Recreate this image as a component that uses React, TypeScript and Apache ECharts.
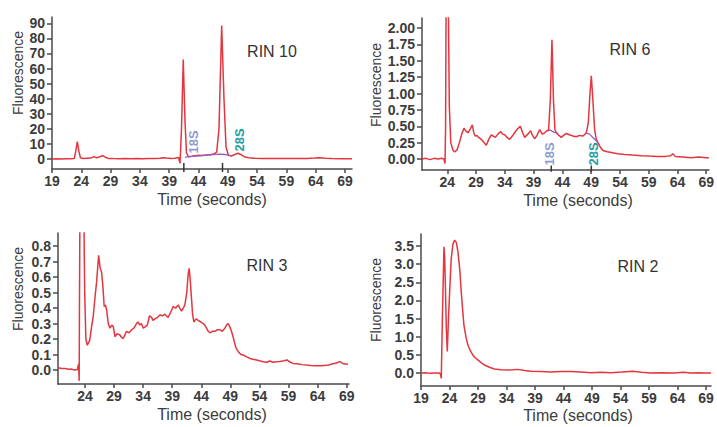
import React, { useEffect, useRef } from "react";
import * as echarts from "echarts";

// ---------- tick values ----------
const xTicksFrom19 = [19, 24, 29, 34, 39, 44, 49, 54, 59, 64, 69];
const xTicksFrom24 = [24, 29, 34, 39, 44, 49, 54, 59, 64, 69];
const yTicksRin10 = [0, 10, 20, 30, 40, 50, 60, 70, 80, 90];
const yTicksRin6 = [0, 0.25, 0.5, 0.75, 1.0, 1.25, 1.5, 1.75, 2.0];
const yTicksRin3 = [0, 0.1, 0.2, 0.3, 0.4, 0.5, 0.6, 0.7, 0.8];
const yTicksRin2 = [0, 0.5, 1.0, 1.5, 2.0, 2.5, 3.0, 3.5];

// ---------- traces: [time (s), fluorescence] ----------
const rin10Trace = [
  [19.0, 0.0], [19.8, 0.2], [20.6, 0.0], [21.4, 0.2], [22.2, 0.1], [22.8, 0.3], [23.05, 5], [23.32, 11.5],
  [23.6, 5], [23.85, 0.8], [24.3, 0.3], [25.0, 0.5], [25.6, 0.6], [26.2, 1.6], [26.6, 0.8], [27.2, 1.5],
  [27.65, 2.3], [28.1, 1.2], [28.6, 0.4], [29.5, 0.3], [30.5, 0.2], [31.5, 0.3], [32.5, 0.2], [33.5, 0.3],
  [34.5, 0.2], [35.5, 0.3], [36.5, 0.3], [37.4, 0.5], [38.0, 0.9], [38.5, 0.6], [39.3, 0.3], [40.0, 0.5],
  [40.6, 1.0], [40.85, -2.8], [41.1, 20], [41.4, 66], [41.7, 25], [41.95, 4], [42.3, 1.5], [42.8, 1.8],
  [43.4, 2.2], [44.0, 2.5], [44.6, 2.3], [45.3, 2.6], [46.0, 2.8], [46.6, 3.3], [47.1, 4.5], [47.5, 20],
  [47.96, 88.5], [48.35, 40], [48.7, 8], [49.1, 2.5], [49.6, 2.0], [50.2, 3.0], [50.74, 3.8], [51.2, 3.0],
  [51.8, 1.5], [52.5, 0.8], [53.5, 0.5], [55.0, 0.4], [56.5, 0.3], [58.0, 0.3], [59.5, 0.4], [61.0, 0.3],
  [62.5, 0.4], [63.8, 0.6], [64.7, 0.9], [65.5, 0.5], [66.8, 0.3], [68.2, 0.2], [69.5, 0.2], [70.2, 0.2],
];
const rin10Baseline = [[41.7, 1.3], [43.0, 1.7], [44.5, 2.2], [46.0, 2.7], [47.5, 3.2], [48.5, 3.0], [49.5, 2.3]];
const rin10Markers = [41.5, 48.1];

const rin6Trace = [
  [19.6, 0.0], [20.3, 0.01], [21.0, -0.01], [21.7, 0.01], [22.4, 0.0], [23.0, 0.01], [23.4, 0.0], [23.6, -0.07],
  [23.7, 0.5], [23.8, 2.6], [24.15, 2.6], [24.35, 0.8], [24.6, 0.25], [25.0, 0.13], [25.28, 0.11], [25.7, 0.14],
  [26.1, 0.25], [26.5, 0.38], [26.9, 0.47], [27.2, 0.43], [27.6, 0.4], [28.0, 0.46], [28.35, 0.52], [28.6, 0.4],
  [28.87, 0.35], [29.15, 0.36], [29.45, 0.33], [29.9, 0.3], [30.3, 0.26], [30.78, 0.21], [31.2, 0.3], [31.65, 0.37],
  [32.0, 0.35], [32.34, 0.33], [32.8, 0.38], [33.27, 0.42], [33.6, 0.38], [33.97, 0.37], [34.4, 0.33], [34.84, 0.3],
  [35.3, 0.35], [35.7, 0.4], [36.2, 0.46], [36.69, 0.5], [37.1, 0.4], [37.44, 0.33], [38.0, 0.38], [38.48, 0.43],
  [38.8, 0.36], [39.18, 0.31], [39.6, 0.36], [40.05, 0.45], [40.5, 0.38], [40.92, 0.4], [41.3, 0.43], [41.61, 0.45],
  [41.9, 0.9], [42.19, 1.82], [42.45, 0.9], [42.7, 0.45], [42.94, 0.4], [43.4, 0.36], [43.81, 0.33], [44.2, 0.36],
  [44.68, 0.39], [45.2, 0.37], [45.84, 0.35], [46.4, 0.34], [47.0, 0.36], [47.6, 0.35], [48.16, 0.4], [48.5, 0.55],
  [48.8, 1.0], [49.03, 1.27], [49.3, 0.9], [49.6, 0.45], [49.9, 0.3], [50.18, 0.25], [50.6, 0.18], [51.05, 0.13],
  [51.8, 0.11], [52.5, 0.1], [53.6, 0.08], [54.81, 0.07], [56.2, 0.06], [57.71, 0.05], [59.1, 0.045], [60.6, 0.04],
  [62.0, 0.04], [62.8, 0.05], [63.21, 0.08], [63.6, 0.04], [65.0, 0.03], [66.4, 0.02], [67.7, 0.03], [69.0, 0.02],
  [69.47, 0.02],
];
const rin6Baseline18S = [[41.4, 0.43], [41.9, 0.44], [42.5, 0.41], [43.3, 0.39]];
const rin6Baseline28S = [[48.1, 0.4], [48.7, 0.38], [49.4, 0.32], [50.2, 0.25]];
const rin6Markers = [42.07, 49.03];

const rin3Trace = [
  [19.4, 0.015], [20.0, 0.01], [20.6, 0.01], [21.2, 0.005], [21.7, 0.006], [22.2, 0.0], [22.7, 0.004], [22.9, 0.04],
  [23.0, -0.07], [23.05, 0.4], [23.15, 1.2], [23.75, 1.2], [23.95, 0.5], [24.15, 0.2], [24.4, 0.16], [24.8, 0.19],
  [25.1, 0.27], [25.43, 0.35], [25.7, 0.46], [26.0, 0.57], [26.35, 0.74], [26.6, 0.66], [26.86, 0.63], [27.1, 0.53],
  [27.3, 0.41], [27.5, 0.42], [27.72, 0.39], [28.0, 0.3], [28.29, 0.27], [28.6, 0.29], [28.87, 0.28], [29.15, 0.215],
  [29.5, 0.235], [30.01, 0.226], [30.3, 0.21], [30.58, 0.204], [30.9, 0.23], [31.16, 0.25], [31.6, 0.24], [32.02, 0.26],
  [32.4, 0.27], [32.87, 0.3], [33.1, 0.31], [33.45, 0.29], [33.7, 0.3], [34.02, 0.27], [34.4, 0.28], [34.71, 0.29],
  [35.1, 0.35], [35.45, 0.34], [35.7, 0.32], [36.02, 0.33], [36.5, 0.34], [36.88, 0.355], [37.3, 0.35], [37.74, 0.36],
  [38.0, 0.35], [38.31, 0.34], [38.7, 0.37], [39.17, 0.41], [39.6, 0.4], [40.03, 0.42], [40.3, 0.4], [40.6, 0.38],
  [40.9, 0.4], [41.18, 0.42], [41.5, 0.5], [41.75, 0.62], [41.92, 0.656], [42.1, 0.58], [42.32, 0.46], [42.5, 0.36],
  [42.72, 0.31], [43.1, 0.33], [43.47, 0.32], [43.9, 0.31], [44.32, 0.3], [44.6, 0.29], [44.9, 0.27], [45.2, 0.25],
  [45.47, 0.24], [45.9, 0.25], [46.33, 0.25], [46.8, 0.26], [47.19, 0.26], [47.6, 0.25], [48.05, 0.27], [48.35, 0.29],
  [48.62, 0.3], [48.9, 0.28], [49.19, 0.25], [49.5, 0.21], [49.76, 0.17], [50.0, 0.14], [50.34, 0.12], [50.8, 0.1],
  [51.2, 0.097], [51.8, 0.085], [52.34, 0.075], [52.9, 0.07], [53.49, 0.065], [54.0, 0.06], [54.63, 0.054], [55.2, 0.05],
  [55.78, 0.058], [56.3, 0.05], [56.92, 0.054], [57.5, 0.055], [58.2, 0.06], [58.75, 0.065], [59.3, 0.05], [59.78, 0.043],
  [60.5, 0.04], [61.3, 0.035], [62.07, 0.032], [62.8, 0.03], [63.6, 0.028], [64.36, 0.028], [65.1, 0.03], [65.9, 0.032],
  [66.65, 0.04], [67.2, 0.045], [67.8, 0.054], [68.5, 0.04], [69.23, 0.037],
];

const rin2Trace = [
  [19.0, 0.0], [19.8, 0.01], [20.6, -0.01], [21.4, 0.0], [22.27, 0.0], [22.45, -0.05], [22.56, -0.15], [22.75, 1.5],
  [23.03, 3.48], [23.15, 3.2], [23.26, 2.52], [23.45, 1.2], [23.61, 0.59], [23.85, 1.6], [24.1, 2.5], [24.31, 3.16],
  [24.6, 3.55], [24.9, 3.66], [25.2, 3.6], [25.48, 3.34], [25.8, 2.85], [26.06, 2.24], [26.3, 1.75], [26.53, 1.32],
  [26.9, 0.98], [27.23, 0.77], [27.7, 0.6], [28.11, 0.49], [28.5, 0.42], [28.98, 0.36], [29.6, 0.28], [30.15, 0.22],
  [31.0, 0.16], [31.9, 0.11], [33.0, 0.09], [34.24, 0.08], [35.2, 0.09], [35.99, 0.1], [37.2, 0.07], [38.32, 0.05],
  [40.0, 0.04], [41.83, 0.03], [43.5, 0.04], [45.33, 0.04], [47.0, 0.03], [48.83, 0.01], [50.6, 0.02], [52.34, 0.01],
  [54.3, 0.03], [56.13, 0.05], [57.7, 0.02], [59.34, 0.0], [61.4, 0.01], [63.43, 0.0], [65.0, 0.02], [66.34, 0.0],
  [67.7, 0.01], [68.97, 0.0], [69.88, 0.0],
];

// ---------- styling ----------
const FONT = "Liberation Sans, Arial, sans-serif";
const RED = "#e4363f";
const PURPLE = "#9a5cc0";
const AXIS = "#4a4a4a";
const TEXT = "#3c3c3c";
const C18S = "#8e9bd2";
const C28S = "#1d9ea2";

const panels = [
  { grid: { left: 52, top: 17, width: 300, height: 152 }, xMin: 19, xMax: 70.2, yMin: -6.63, yMax: 94.2, xTicks: xTicksFrom19, yTicks: yTicksRin10, dec: 0 },
  { grid: { left: 422, top: 18, width: 287, height: 152 }, xMin: 19.6, xMax: 69.47, yMin: -0.168, yMax: 2.153, xTicks: xTicksFrom24, yTicks: yTicksRin6, dec: 2 },
  { grid: { left: 58, top: 233, width: 291, height: 151 }, xMin: 19.36, xMax: 69.4, yMin: -0.09, yMax: 0.884, xTicks: xTicksFrom24, yTicks: yTicksRin3, dec: 1 },
  { grid: { left: 421, top: 234, width: 290, height: 152 }, xMin: 19, xMax: 69.88, yMin: -0.358, yMax: 3.83, xTicks: xTicksFrom19, yTicks: yTicksRin2, dec: 1 },
];

function lineSeries(idx: number, data: number[][], color: string, width: number, z: number, clip = true) {
  return {
    type: "line",
    xAxisIndex: idx,
    yAxisIndex: idx,
    data,
    symbol: "none",
    showSymbol: false,
    silent: true,
    clip,
    z,
    lineStyle: { color, width },
  };
}

function vText(text: string, x: number, y: number, color: string, size: number, weight: string = "normal") {
  return {
    type: "text",
    x,
    y,
    rotation: Math.PI / 2,
    silent: true,
    style: { text, fill: color, font: `${weight} ${size}px ${FONT}`, textAlign: "center", textVerticalAlign: "middle" },
  };
}

function hText(text: string, x: number, y: number, color: string, size: number) {
  return {
    type: "text",
    x,
    y,
    silent: true,
    style: { text, fill: color, font: `normal ${size}px ${FONT}`, textAlign: "center", textVerticalAlign: "middle" },
  };
}

export default function App() {
  const ref = useRef<HTMLDivElement>(null);
  useEffect(() => {
    if (!ref.current) return;
    const chart = echarts.init(ref.current, null, { renderer: "svg" });

    const xAxis = panels.map((p, i) => ({
      type: "value",
      gridIndex: i,
      min: p.xMin,
      max: p.xMax,
      axisLine: { show: true, onZero: false, lineStyle: { color: AXIS, width: 1.5 } },
      axisTick: { show: true, length: 4, customValues: p.xTicks, lineStyle: { color: AXIS, width: 1.5 } },
      axisLabel: { customValues: p.xTicks, color: TEXT, fontSize: 14, fontWeight: "bold", fontFamily: FONT, margin: 5 },
      splitLine: { show: false },
    }));
    const yAxis = panels.map((p, i) => ({
      type: "value",
      gridIndex: i,
      min: p.yMin,
      max: p.yMax,
      axisLine: { show: true, onZero: false, lineStyle: { color: AXIS, width: 1.5 } },
      axisTick: { show: true, length: 5, customValues: p.yTicks, lineStyle: { color: AXIS, width: 1.5 } },
      axisLabel: {
        customValues: p.yTicks,
        color: TEXT,
        fontSize: 14,
        fontWeight: "bold",
        fontFamily: FONT,
        margin: 7,
        formatter: (v: number) => v.toFixed(p.dec),
      },
      splitLine: { show: false },
    }));

    const markerSeries = (idx: number, t: number, lo: number, hi: number) =>
      lineSeries(idx, [[t, lo], [t, hi]], "#333333", 1.5, 5, false);

    const series = [
      lineSeries(0, rin10Trace, RED, 1.5, 3),
      lineSeries(0, rin10Baseline, PURPLE, 1.3, 4),
      ...rin10Markers.map((t) => markerSeries(0, t, -8.6, -2.65)),
      lineSeries(1, rin6Trace, RED, 1.5, 3),
      lineSeries(1, rin6Baseline18S, PURPLE, 1.3, 4),
      lineSeries(1, rin6Baseline28S, PURPLE, 1.3, 4),
      ...rin6Markers.map((t) => markerSeries(1, t, -0.194, -0.1)),
      lineSeries(2, rin3Trace, RED, 1.5, 3),
      lineSeries(3, rin2Trace, RED, 1.5, 3),
    ];

    const graphic = [
      vText("Fluorescence", 18, 73, TEXT, 14),
      vText("Fluorescence", 376, 85, TEXT, 14),
      vText("Fluorescence", 18, 289, TEXT, 14),
      vText("Fluorescence", 376, 300, TEXT, 14),
      hText("Time (seconds)", 212, 199, TEXT, 16),
      hText("Time (seconds)", 578, 200, TEXT, 16),
      hText("Time (seconds)", 212, 414, TEXT, 16),
      hText("Time (seconds)", 578, 415, TEXT, 16),
      hText("RIN 10", 272, 51, "#333333", 16),
      hText("RIN 6", 630, 49, "#333333", 16),
      hText("RIN 3", 267, 265, "#333333", 16),
      hText("RIN 2", 638, 266, "#333333", 16),
      vText("18S", 193, 142, C18S, 13, "bold"),
      vText("28S", 239, 140, C28S, 13, "bold"),
      vText("18S", 549, 154, C18S, 13, "bold"),
      vText("28S", 593, 154, C28S, 13, "bold"),
    ];

    chart.setOption({
      animation: false,
      backgroundColor: "#ffffff",
      grid: panels.map((p) => ({ ...p.grid, containLabel: false })),
      xAxis,
      yAxis,
      series,
      graphic,
    });
    return () => chart.dispose();
  }, []);
  return <div ref={ref} style={{ position: "absolute", left: 0, top: 0, width: 717, height: 427 }} />;
}
